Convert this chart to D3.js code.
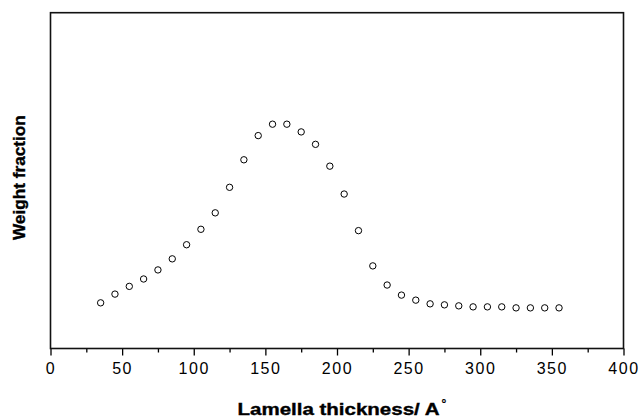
<!DOCTYPE html>
<html>
<head>
<meta charset="utf-8">
<script src="https://cdn.jsdelivr.net/npm/d3@7"></script>
<style>
  html, body { margin: 0; padding: 0; background: #fff; }
  svg { display: block; }
</style>
</head>
<body>
<svg id="chart" width="643" height="418"></svg>
<script>
// Lamella thickness (Å)
const thickness = [35, 45, 55, 65, 75, 85, 95, 105, 115, 125, 135, 145, 155, 165, 175, 185, 195,
                   205, 215, 225, 235, 245, 255, 265, 275, 285, 295, 305, 315, 325, 335, 345, 355];
// Weight fraction (arbitrary units)
const weightFraction = [0.136, 0.162, 0.185, 0.207, 0.234, 0.267, 0.309, 0.355, 0.404, 0.480,
                        0.562, 0.634, 0.668, 0.668, 0.645, 0.608, 0.543, 0.460, 0.351, 0.246,
                        0.189, 0.159, 0.144, 0.133, 0.130, 0.127, 0.124, 0.124, 0.124, 0.121,
                        0.121, 0.121, 0.121];
const xTicks = [0, 50, 100, 150, 200, 250, 300, 350, 400];
const xMinorTicks = [25, 75, 125, 175, 225, 275, 325, 375];

const svg = d3.select("#chart");
const mLeft = 50.5, mRight = 623.5, mTop = 12.7, mBottom = 348.5;

const x = d3.scaleLinear().domain([0, 400]).range([mLeft, mRight]);
const y = d3.scaleLinear().domain([0, 1]).range([mBottom, mTop]);

// minor ticks
svg.append("g")
  .attr("transform", `translate(0,${mBottom})`)
  .call(d3.axisBottom(x).tickValues(xMinorTicks).tickSize(4).tickFormat(""))
  .call(g => g.select(".domain").remove())
  .call(g => g.selectAll("line").attr("stroke", "#000").attr("stroke-width", 1.3));

// major ticks
const xAxis = svg.append("g")
  .attr("transform", `translate(0,${mBottom})`)
  .call(d3.axisBottom(x).tickValues(xTicks).tickSize(7).tickPadding(7).tickFormat(d3.format("d")));
xAxis.select(".domain").remove();
xAxis.selectAll("line").attr("stroke", "#000").attr("stroke-width", 1.3);
xAxis.selectAll("text")
  .attr("fill", "#000")
  .style("font-family", "'Liberation Sans', Arial, sans-serif")
  .style("font-size", "16px")
  .style("letter-spacing", "1.6px");

// frame
svg.append("rect")
  .attr("x", mLeft).attr("y", mTop)
  .attr("width", mRight - mLeft).attr("height", mBottom - mTop)
  .attr("fill", "none").attr("stroke", "#111").attr("stroke-width", 1.6);

// points
svg.append("g").selectAll("circle")
  .data(thickness.map((t, i) => [t, weightFraction[i]]))
  .join("circle")
  .attr("cx", d => x(d[0]))
  .attr("cy", d => y(d[1]))
  .attr("r", 3.2)
  .attr("fill", "none")
  .attr("stroke", "#000")
  .attr("stroke-width", 1);

// x-axis title
const titleStyle = sel => sel
  .style("font-family", "'Liberation Sans', Arial, sans-serif")
  .style("font-weight", "bold")
  .style("font-size", "16px")
  .attr("fill", "#000")
  .attr("stroke", "#000")
  .attr("stroke-width", 0.35);

svg.append("text")
  .attr("x", 237.5).attr("y", 415)
  .attr("textLength", 202)
  .attr("lengthAdjust", "spacingAndGlyphs")
  .call(titleStyle)
  .text("Lamella thickness/ A");
svg.append("text")
  .attr("x", 441.5).attr("y", 408)
  .call(titleStyle)
  .style("font-size", "12px")
  .attr("stroke-width", 0.2)
  .text("°");

// y-axis title
svg.append("text")
  .attr("transform", `translate(24.5,${(mTop + mBottom) / 2 - 3}) rotate(-90)`)
  .attr("text-anchor", "middle")
  .attr("textLength", 125)
  .attr("lengthAdjust", "spacingAndGlyphs")
  .call(titleStyle)
  .text("Weight fraction");
</script>
</body>
</html>
